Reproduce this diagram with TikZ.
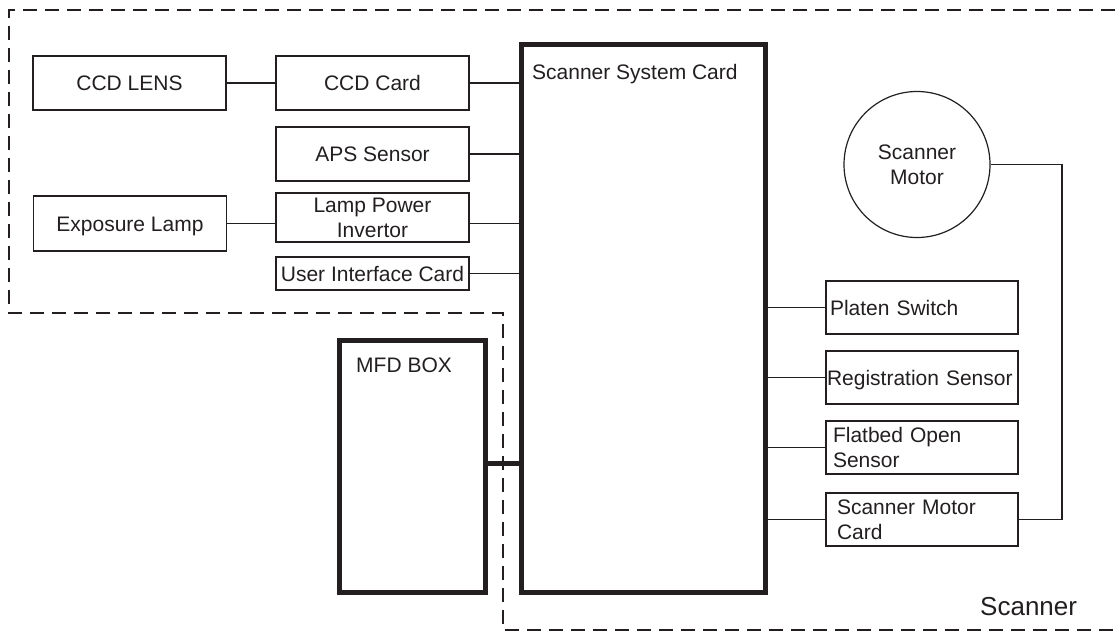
\documentclass[tikz,border=0pt]{standalone}
\usepackage{fontspec}
\setmainfont{Liberation Sans}
\usetikzlibrary{calc}
\definecolor{ink}{HTML}{231F20}
\begin{document}
\begin{tikzpicture}[x=1pt,y=-1pt,
  every node/.style={text=ink, font=\fontsize{21}{25}\selectfont},
  box/.style={draw=ink, line width=1.2pt, inner sep=0pt, minimum width=193pt, minimum height=54pt, align=center, text height=15pt, text depth=0pt},
  rbox/.style={box, minimum width=192pt, minimum height=53pt, text width=#1, align=left},
  twoline/.style={text height=40pt, text depth=0pt},
  twolinew/.style={text height=15pt, text depth=25pt},
  thickbox/.style={draw=ink, line width=5pt, inner sep=0pt},
  conn/.style={draw=ink, line width=1.2pt},
  busline/.style={draw=ink, line width=5pt},
  boundary/.style={draw=ink, line width=1.5pt, dash pattern=on 14pt off 8pt},
  lbl/.style={inner sep=0pt, text height=15pt, text depth=0pt}
]
\useasboundingbox (0,0) rectangle (1115,632);

% Scanner boundary (dashed)
\draw[boundary] (1115,10) -- (9,10) -- (9,313) -- (503,313) -- (503,630) -- (1115,630);

% Main thick boxes
\node[thickbox, minimum width=244pt, minimum height=547.5pt] (sys) at (643.5,318.25) {};
\node[lbl, anchor=west] (syslbl) at (532,72) {Scanner System Card};
\node[thickbox, minimum width=146pt, minimum height=251.5pt] (mfd) at (412.5,466.25) {};
\node[lbl, anchor=west] (mfdlbl) at (356,365) {MFD BOX};

% Left column
\node[box] (lens) at (129.5,83) {CCD LENS};
\node[box] (ccd) at (372.5,83) {CCD Card};
\node[box] (aps) at (372.5,154) {APS Sensor};
\node[box, minimum height=55pt] (exp) at (130,223.5) {Exposure Lamp};
\node[box, twoline, minimum height=49pt] (lamp) at (372.5,217.5) {Lamp Power\\Invertor};
\node[box, minimum height=33pt] (uic) at (372.5,273.5) {User Interface Card};

% Right column
\node[rbox=184pt] (platen) at (922,307.5) {Platen Switch};
\node[rbox=190pt] (reg) at (922,377.5) {Registration Sensor};
\node[rbox=178pt, twolinew] (flat) at (922,447.5) {Flatbed Open\\Sensor};
\node[rbox=170pt, twolinew] (smc) at (922,519.5) {Scanner Motor\\Card};

% Motor
\node[circle, draw=ink, line width=1.2pt, minimum size=146pt, inner sep=0pt, align=center, twoline] (motor) at (917,164.5) {Scanner\\Motor};

% Label
\node[inner sep=0pt, anchor=base west, font=\fontsize{26}{30}\selectfont] (scannerlbl) at (980,615) {Scanner};

% Connectors
\coordinate (bus) at (0,463);
\coordinate (mturn) at (1062,0);
\draw[conn] (lens.east) -- (ccd.west);
\draw[conn] (ccd.east) -- (ccd.east -| sys.west);
\draw[conn] (aps.east) -- (aps.east -| sys.west);
\draw[conn] (exp.east) -- (exp.east -| lamp.west);
\draw[conn] (exp.east -| lamp.east) -- (exp.east -| sys.west);
\draw[conn] (uic.east) -- (uic.east -| sys.west);
\draw[conn] (platen.west -| sys.east) -- (platen.west);
\draw[conn] (reg.west -| sys.east) -- (reg.west);
\draw[conn] (flat.west -| sys.east) -- (flat.west);
\draw[conn] (smc.west -| sys.east) -- (smc.west);
\draw[conn] (motor.east) -| (mturn |- smc.east) -- (smc.east);
\draw[busline] (bus -| mfd.east) -- (bus -| sys.west);
\end{tikzpicture}
\end{document}
